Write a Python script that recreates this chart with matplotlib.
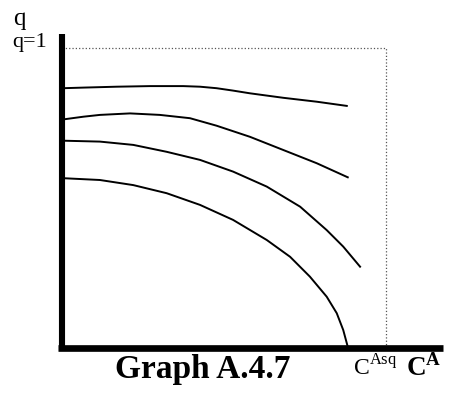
import matplotlib
matplotlib.use('Agg')
from matplotlib import pyplot as plt

plt.rcParams['font.family'] = ['Liberation Serif', 'DejaVu Serif']
plt.rcParams['mathtext.fontset'] = 'custom'
plt.rcParams['mathtext.rm'] = 'Liberation Serif'
plt.rcParams['mathtext.bf'] = 'Liberation Serif:bold'

# curves: C (C^Asq = 1) and q (q = 1 at the top)
c1 = [0.004, 0.066, 0.169, 0.272, 0.374, 0.426, 0.477, 0.528, 0.580, 0.683, 0.786, 0.879]
q1 = [0.866, 0.868, 0.871, 0.873, 0.873, 0.871, 0.866, 0.858, 0.849, 0.834, 0.821, 0.807]

c2 = [0.004, 0.066, 0.117, 0.210, 0.302, 0.395, 0.477, 0.580, 0.683, 0.786, 0.882]
q2 = [0.762, 0.771, 0.777, 0.782, 0.777, 0.766, 0.741, 0.704, 0.660, 0.616, 0.569]

c3 = [0.004, 0.117, 0.220, 0.323, 0.426, 0.528, 0.632, 0.735, 0.817, 0.868, 0.920]
q3 = [0.691, 0.688, 0.677, 0.654, 0.627, 0.588, 0.538, 0.471, 0.393, 0.338, 0.271]

c4 = [0.004, 0.117, 0.220, 0.323, 0.426, 0.528, 0.632, 0.704, 0.765, 0.817, 0.848, 0.868, 0.879, 0.882]
q4 = [0.566, 0.560, 0.543, 0.516, 0.477, 0.427, 0.360, 0.304, 0.238, 0.171, 0.116, 0.060, 0.016, 0.004]

c_asq = 1.0
q_top = 1.0

fig = plt.figure(figsize=(4.55, 3.93), dpi=100)
ax = fig.add_axes([0, 0, 1, 1])
ax.set_xlim(-0.1914, 1.2130)
ax.set_ylim(-0.15, 1.16)
ax.axis('off')

# dotted box to q=1 and C^Asq
ax.plot([0, c_asq], [q_top, q_top], ls=':', c='#555555', lw=0.9)
ax.plot([c_asq, c_asq], [0, q_top], ls=':', c='#555555', lw=0.9)

for cs, qs in [(c1, q1), (c2, q2), (c3, q3), (c4, q4)]:
    ax.plot(cs, qs, c='black', lw=1.4, solid_joinstyle='round')

# thick axes
ax.plot([0, 0], [-0.01, 1.047], c='black', lw=4.4, solid_capstyle='butt')
ax.plot([-0.012, 1.176], [0, 0], c='black', lw=4.8, solid_capstyle='butt')

ax.text(-0.151, 1.077, 'q', fontsize=18, ha='left', va='baseline')
ax.text(-0.153, 1.003, 'q=1', fontsize=16, ha='left', va='baseline')
ax.text(0.434, -0.1, 'Graph A.4.7', fontsize=24, fontweight='bold',
        ha='center', va='baseline')
ax.text(0.898, -0.09, r'$\mathrm{C}^{\mathrm{Asq}}$', fontsize=17,
        ha='left', va='baseline')
ax.text(1.062, -0.093, r'$\mathbf{C}^{\mathbf{A}}$', fontsize=19.5,
        ha='left', va='baseline')

fig.savefig('out.png', dpi=100)
